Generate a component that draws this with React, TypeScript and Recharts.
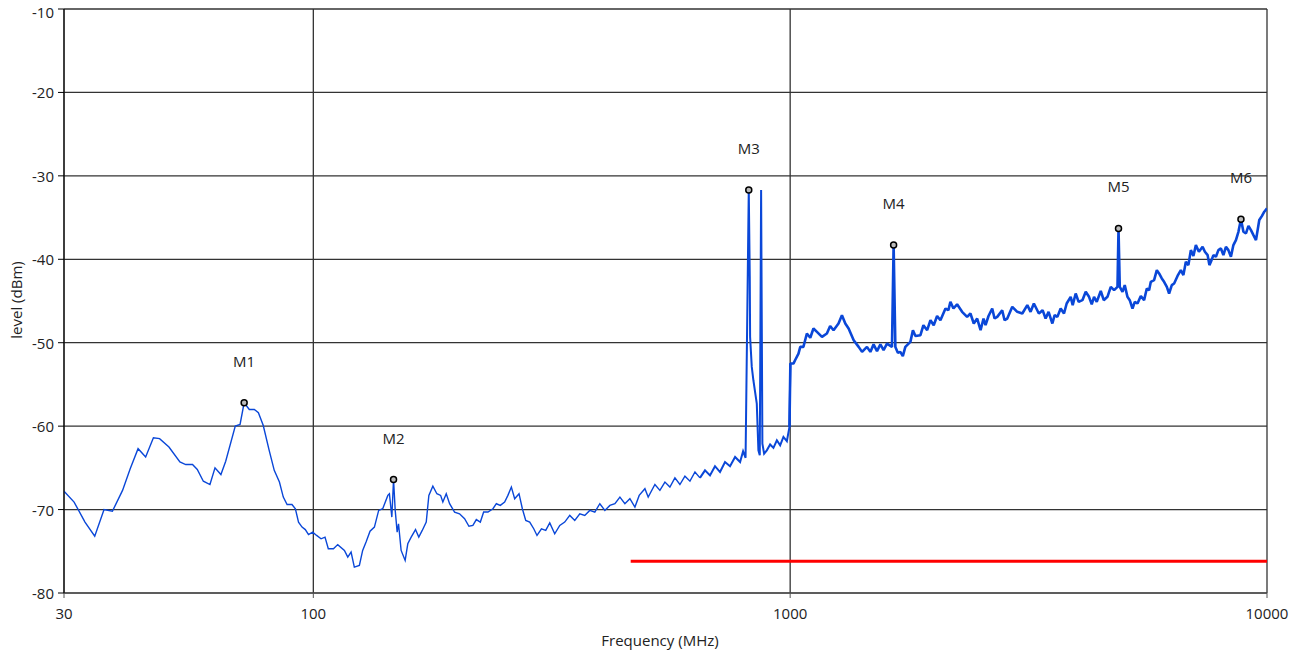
import React from 'react';
import {
  LineChart,
  Line,
  XAxis,
  YAxis,
  CartesianGrid,
  ReferenceDot,
  Label
} from 'recharts';

// spectrum trace, 30 MHz .. ~300 MHz
const lowFreq = [
  30.0, 31.5, 33.2, 34.8, 36.4, 37.9, 39.8, 41.3, 42.9, 44.5, 46.2, 47.6, 49.8, 52.5, 54.0, 55.8,
  57.1, 58.8, 60.7, 62.2, 64.0, 65.5, 68.6, 70.2, 71.6, 73.4, 75.2, 76.7, 78.5, 80.8, 82.8, 84.9,
  86.5, 88.1, 90.2, 91.7, 93.1, 94.7, 96.2, 97.7, 99.7, 101.6, 103.8, 105.8, 107.5, 110.2, 112.5,
  116.2, 118.1, 120.0, 121.9, 124.9, 126.9, 129.0, 131.5, 134.3, 137.1, 139.8, 143.3, 144.4, 146.1,
  147.3, 148.5, 149.9, 150.9, 152.8, 155.8, 157.8, 160.4, 163.8, 166.4, 169.2, 172.5, 174.7, 178.1,
  181.6, 184.9, 186.9, 190.0, 193.1, 197.8, 202.6, 207.6, 212.0, 216.1, 219.7, 224.0, 227.6, 232.4,
  238.1, 242.0, 246.7, 251.9, 255.9, 260.2, 264.4, 270.0, 274.4, 278.9, 284.3, 289.9, 294.5
];
const lowLevel = [
  -67.8, -69.1, -71.5, -73.2, -70.0, -70.2, -67.7, -65.1, -62.7, -63.7, -61.4, -61.5, -62.5, -64.3, -64.6, -64.6,
  -65.2, -66.6, -67.0, -65.0, -65.8, -64.2, -60.0, -59.8, -57.2, -58.0, -58.0, -58.4, -59.9, -62.9, -65.3, -66.7,
  -68.5, -69.4, -69.4, -69.9, -71.5, -72.1, -72.4, -73.0, -72.7, -73.1, -73.5, -73.3, -74.7, -74.7, -74.2,
  -74.9, -75.7, -75.1, -76.9, -76.7, -74.9, -73.9, -72.6, -72.1, -70.1, -69.9, -68.3, -68.1, -70.9,
  -66.4, -70.1, -72.7, -71.7, -74.9, -76.1, -74.1, -73.3, -72.4, -73.3, -72.5, -71.5, -68.3, -67.2,
  -68.1, -68.3, -69.1, -68.1, -69.3, -70.3, -70.5, -71.1, -72.0, -71.9, -71.2, -71.5, -70.3, -70.3,
  -69.9, -69.3, -69.5, -69.1, -68.3, -67.3, -68.7, -68.1, -69.9, -71.3, -71.5, -72.3, -73.1
];

// 300 MHz .. 1 GHz
const midFreq = [
  300.9, 307.2, 313.2, 320.8, 328.7, 336.7, 345.0, 353.4, 362.1, 370.9, 380.0, 389.3, 398.9, 408.7,
  418.7, 429.0, 439.5, 450.2, 461.2, 472.5, 482.4, 495.9, 503.8, 520.4, 533.1, 546.2, 559.5, 573.2,
  587.2, 601.6, 616.4, 631.5, 646.9, 662.8, 679.0, 695.6, 712.7, 730.1, 748.0, 766.5, 785.2, 796.7,
  806.3, 818.8, 822.8, 824.1, 830.8, 837.3, 851.1, 857.8, 863.5, 869.1, 874.5, 881.8, 893.4, 907.8,
  922.4, 937.8, 952.8, 968.0, 984.2, 996.6
];
const midLevel = [
  -72.3, -72.5, -71.6, -72.9, -71.9, -71.5, -70.7, -71.3, -70.5, -70.7, -70.1, -70.3, -69.3, -70.1,
  -69.5, -69.3, -68.5, -69.3, -68.7, -69.7, -68.3, -67.5, -68.5, -67.0, -67.7, -66.7, -67.3, -66.2,
  -67.0, -66.0, -66.6, -65.5, -66.2, -65.3, -65.9, -64.8, -65.5, -64.3, -64.8, -63.7, -64.3, -63.0,
  -63.8, -31.7, -42.1, -49.3, -52.9, -54.5, -57.3, -62.9, -63.5, -31.7, -62.1, -63.3, -62.9, -62.2,
  -62.6, -61.7, -62.3, -61.3, -61.8, -60.1
];

// 1 GHz .. 10 GHz
const highFreq = [
  1001, 1016, 1024, 1041, 1050, 1066, 1075, 1084, 1102, 1119, 1138, 1166, 1194, 1213, 1233, 1263,
  1284, 1305, 1326, 1359, 1392, 1415, 1449, 1473, 1496, 1521, 1546, 1570, 1596, 1635, 1648, 1662,
  1682, 1702, 1723, 1744, 1787, 1809, 1831, 1876, 1903, 1938, 1969, 2000, 2033, 2066, 2117, 2147,
  2168, 2200, 2239, 2294, 2350, 2388, 2427, 2467, 2508, 2544, 2569, 2606, 2653, 2683, 2718, 2784,
  2816, 2853, 2923, 2994, 3068, 3143, 3193, 3244, 3323, 3384, 3433, 3483, 3547, 3586, 3634, 3692,
  3752, 3801, 3875, 3913, 3970, 4027, 4101, 4167, 4234, 4290, 4338, 4395, 4481, 4546, 4628, 4703,
  4779, 4858, 4882, 4912, 4977, 5031, 5097, 5154, 5223, 5281, 5351, 5437, 5524, 5597, 5659, 5706,
  5797, 5874, 5939, 6017, 6084, 6165, 6233, 6315, 6386, 6492, 6597, 6678, 6758, 6841, 6924, 7009,
  7093, 7197, 7327, 7409, 7507, 7572, 7628, 7720, 7814, 7908, 8005, 8101, 8201, 8299, 8401, 8502,
  8607, 8711, 8818, 8924, 9034, 9143, 9255, 9367, 9482, 9634, 9761, 9870, 10000
];
const highLevel = [
  -52.5, -52.5, -52.1, -51.3, -50.5, -50.5, -49.7, -48.9, -49.4, -48.3, -48.7, -49.3, -48.9, -48.0, -48.5, -47.7,
  -46.7, -47.7, -48.3, -49.7, -50.5, -51.1, -50.5, -51.1, -50.2, -51.0, -50.2, -50.9, -50.1, -50.5, -38.3, -50.5,
  -51.2, -51.1, -51.6, -50.5, -49.9, -48.5, -49.2, -49.1, -47.9, -48.5, -47.3, -47.9, -46.8, -47.3, -45.9, -46.1,
  -45.1, -45.9, -45.4, -46.3, -46.9, -46.5, -47.7, -47.1, -48.5, -47.1, -47.9, -46.8, -45.9, -47.1, -46.9, -46.1,
  -47.3, -47.1, -45.7, -46.3, -46.5, -45.5, -46.3, -45.3, -46.5, -46.1, -47.1, -46.3, -47.7, -46.7, -46.9, -45.9,
  -46.5, -45.3, -44.5, -45.5, -44.1, -45.1, -44.9, -43.9, -44.5, -45.4, -44.5, -45.1, -43.8, -44.9, -44.5, -43.3,
  -43.7, -43.3, -36.3, -43.3, -43.9, -43.1, -44.5, -44.9, -45.9, -45.1, -45.3, -44.4, -44.9, -43.5, -43.7, -42.7,
  -42.5, -41.3, -41.7, -42.3, -42.7, -43.3, -44.1, -43.1, -42.9, -42.0, -41.3, -41.9, -40.3, -40.7, -38.9, -39.6,
  -38.3, -39.1, -38.5, -39.1, -39.5, -40.7, -40.3, -39.5, -39.7, -38.9, -38.7, -39.5, -38.5, -38.9, -39.7, -38.3,
  -37.7, -36.7, -35.2, -36.7, -36.9, -36.0, -36.5, -37.1, -37.7, -35.3, -34.8, -34.3, -33.9
];

// limit line (red)
const limitFreq = [463, 10000];
const limitLevel = [-76.2, -76.2];

// markers
const markerNames = ['M1', 'M2', 'M3', 'M4', 'M5', 'M6'];
const markerFreq = [71.6, 147.3, 818.8, 1648, 4882, 8818];
const markerLevel = [-57.2, -66.4, -31.7, -38.3, -36.3, -35.2];

const freqTicks = [30, 100, 1000, 10000];
const levelTicks = [-80, -70, -60, -50, -40, -30, -20, -10];

const traceFreq = [...lowFreq, ...midFreq, ...highFreq];
const traceLevel = [...lowLevel, ...midLevel, ...highLevel];
const trace = traceFreq.map((f, i) => ({ f, level: traceLevel[i] }));
const limit = limitFreq.map((f, i) => ({ f, level: limitLevel[i] }));

// the analyzer trace gets visibly denser with frequency, so draw it in three
// overlapping pieces with growing stroke width
const traceA = trace.filter((d) => d.f <= 650);
const traceB = trace.filter((d) => d.f >= 646 && d.f <= 1001);
const traceC = trace.filter((d) => d.f >= 996);

const font = '"Open Sans", "Noto Sans", sans-serif';
const blue = '#0a47d8';

const YTick = (props: any) => {
  const { x, y, payload } = props;
  // top label sits a bit lower so it stays on the page
  const dy = payload.value === levelTicks[levelTicks.length - 1] ? 9 : 6;
  return (
    <text x={x} y={y} dy={dy} textAnchor="end" fill="#222" fontSize={15} fontFamily={font}>
      {payload.value}
    </text>
  );
};

export default function App() {
  return (
    <div style={{ position: 'relative', width: 1293, height: 657, marginTop: -8, fontFamily: font, color: '#222' }}>
      <style>{'.recharts-surface { overflow: visible; }'}</style>
      <LineChart
        width={1293}
        height={657}
        margin={{ top: 9, right: 34, bottom: 34, left: 0 }}
      >
        <CartesianGrid stroke="#333" strokeWidth={1.3} />
        <XAxis
          dataKey="f"
          type="number"
          scale="log"
          domain={[30, 10000]}
          ticks={freqTicks}
          allowDataOverflow
          height={30}
          tickSize={5}
          tickMargin={10}
          stroke="#555"
          tick={{ fill: '#222', fontSize: 15, fontFamily: font }}
        />
        <YAxis
          type="number"
          domain={[-80, -10]}
          ticks={levelTicks}
          width={56}
          tickSize={6}
          tickMargin={4}
          stroke="#000"
          tick={<YTick />}
        />
        <Line
          data={limit}
          dataKey="level"
          type="linear"
          stroke="#ff0000"
          strokeWidth={3}
          dot={false}
          isAnimationActive={false}
        />
        <Line
          data={traceA}
          dataKey="level"
          type="linear"
          stroke={blue}
          strokeWidth={1.4}
          dot={false}
          isAnimationActive={false}
        />
        <Line
          data={traceB}
          dataKey="level"
          type="linear"
          stroke={blue}
          strokeWidth={2}
          dot={false}
          isAnimationActive={false}
        />
        <Line
          data={traceC}
          dataKey="level"
          type="linear"
          stroke={blue}
          strokeWidth={2.6}
          strokeLinejoin="bevel"
          dot={false}
          isAnimationActive={false}
        />
        {markerNames.map((name, i) => (
          <ReferenceDot
            key={name}
            x={markerFreq[i]}
            y={markerLevel[i]}
            r={3}
            fill="#bbb"
            stroke="#000"
            strokeWidth={1.5}
          >
            <Label value={name} position="top" offset={33} fill="#222" fontSize={15} fontFamily={font} />
          </ReferenceDot>
        ))}
      </LineChart>
      <div style={{ position: 'absolute', left: 552, top: 630, width: 200, textAlign: 'center', fontSize: 15 }}>
        Frequency (MHz)
      </div>
      <div
        style={{
          position: 'absolute',
          left: -92,
          top: 290,
          width: 200,
          textAlign: 'center',
          fontSize: 15,
          transform: 'rotate(-90deg)'
        }}
      >
        level (dBm)
      </div>
    </div>
  );
}
